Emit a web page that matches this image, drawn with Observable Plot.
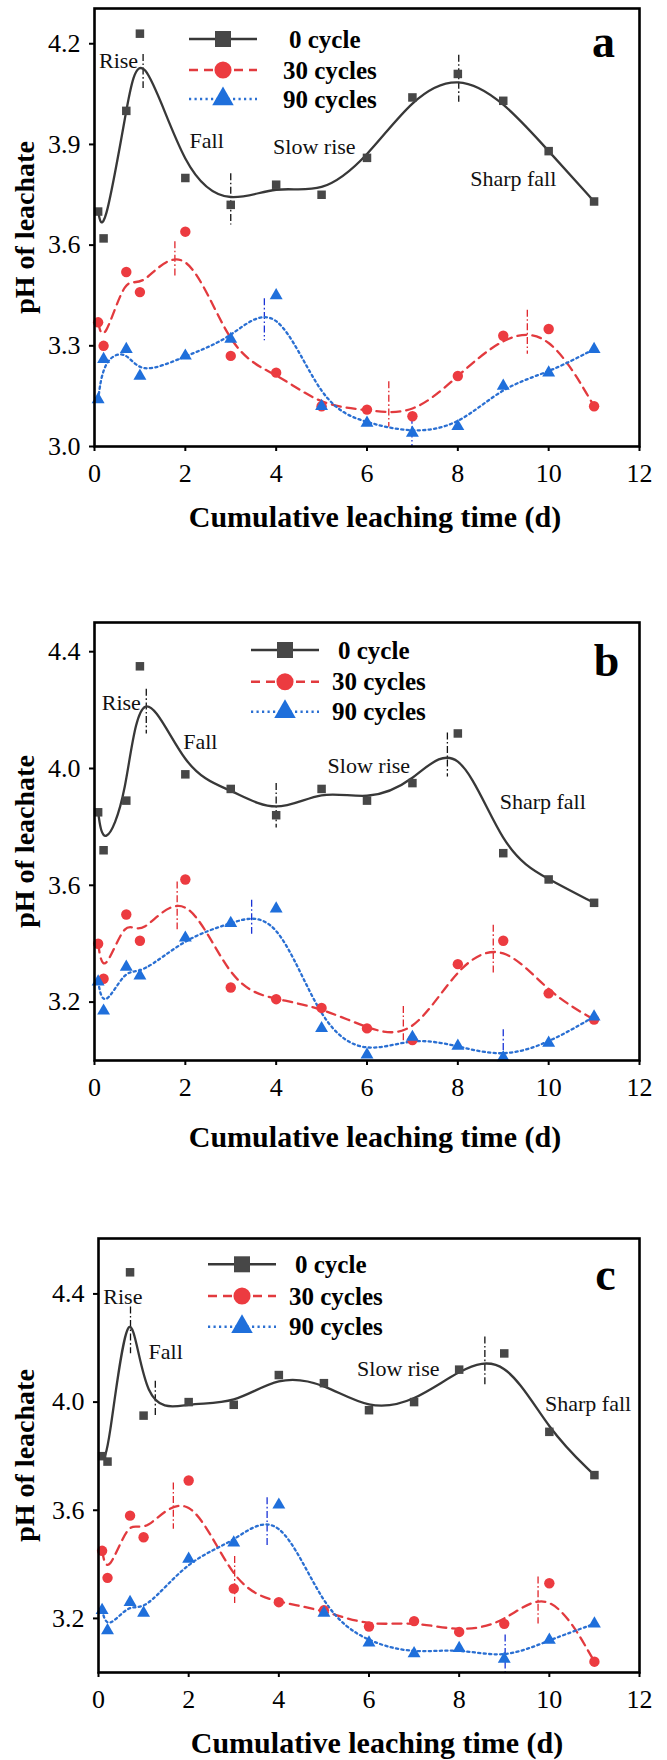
<!DOCTYPE html>
<html><head><meta charset="utf-8">
<script src="https://cdn.jsdelivr.net/npm/d3@7"></script>
<script src="https://cdn.jsdelivr.net/npm/@observablehq/plot@0.6"></script>
<style>
body{margin:0;background:#fff;}
#wrap{position:relative;width:667px;height:1760px;overflow:hidden;background:#fff;}
.panel{position:absolute;left:0;}
.panel svg, .panel svg text{font-family:"Liberation Serif","Times New Roman",serif;}
</style></head><body><div id="wrap"></div>
<script>
// ---- data ----
const time = [0.08, 0.2, 0.7, 1, 2, 3, 4, 5, 6, 7, 8, 9, 10, 11];
const seriesNames = ["0 cycle", "30 cycles", "90 cycles"];
const xTicks = [0, 2, 4, 6, 8, 10, 12];
const noteText = ["Rise", "Fall", "Slow rise", "Sharp fall"];

// panel a
const phA0  = [3.70, 3.62, 4.00, 4.23, 3.80, 3.72, 3.78, 3.75, 3.86, 4.04, 4.11, 4.03, 3.88, 3.73];
const phA30 = [3.37, 3.30, 3.52, 3.46, 3.64, 3.27, 3.22, 3.12, 3.11, 3.09, 3.21, 3.33, 3.35, 3.12];
const phA90 = [3.14, 3.26, 3.29, 3.21, 3.27, 3.32, 3.45, 3.12, 3.07, 3.04, 3.06, 3.18, 3.22, 3.29];
const yTicksA = [3.0, 3.3, 3.6, 3.9, 4.2];
// [x, yTop, yBottom, series index]
const stagesA = [[1.07, 4.168, 4.067, 0], [3.0, 3.813, 3.66, 0], [8.02, 4.166, 4.026, 0],
  [1.77, 3.61, 3.505, 1], [3.74, 3.44, 3.315, 2], [6.48, 3.193, 3.057, 1], [6.99, 3.087, 3.0, 2], [9.53, 3.406, 3.275, 1]];
const noteXA = [0.53, 2.47, 4.84, 9.22];
const noteYA = [4.148, 3.91, 3.893, 3.796];

// panel b
const phB0  = [3.85, 3.72, 3.89, 4.35, 3.98, 3.93, 3.84, 3.93, 3.89, 3.95, 4.12, 3.71, 3.62, 3.54];
const phB30 = [3.40, 3.28, 3.50, 3.41, 3.62, 3.25, 3.21, 3.18, 3.11, 3.07, 3.33, 3.41, 3.23, 3.14];
const phB90 = [3.27, 3.17, 3.32, 3.29, 3.42, 3.47, 3.52, 3.11, 3.02, 3.08, 3.05, 3.01, 3.06, 3.15];
const yTicksB = [3.2, 3.6, 4.0, 4.4];
const stagesB = [[1.14, 4.271, 4.118, 0], [4.0, 3.949, 3.796, 0], [7.77, 4.122, 3.971, 0],
  [1.82, 3.611, 3.448, 1], [3.46, 3.549, 3.432, 2], [6.8, 3.185, 3.057, 1], [8.78, 3.463, 3.297, 1], [9.0, 3.105, 3.0, 2]];
const noteXB = [0.59, 2.33, 6.04, 9.87];
const noteYB = [4.223, 4.091, 4.01, 3.886];

// panel c
const phC0  = [3.80, 3.78, 4.48, 3.95, 4.00, 3.99, 4.10, 4.07, 3.97, 4.00, 4.12, 4.18, 3.89, 3.73];
const phC30 = [3.45, 3.35, 3.58, 3.50, 3.71, 3.31, 3.26, 3.23, 3.17, 3.19, 3.15, 3.18, 3.33, 3.04];
const phC90 = [3.23, 3.155, 3.26, 3.22, 3.42, 3.48, 3.62, 3.22, 3.11, 3.07, 3.09, 3.05, 3.12, 3.18];
const yTicksC = [3.2, 3.6, 4.0, 4.4];
const stagesC = [[0.71, 4.352, 4.179, 0], [1.26, 4.077, 3.941, 0], [8.57, 4.241, 4.064, 0],
  [1.66, 3.701, 3.53, 1], [3.74, 3.646, 3.469, 2], [3.02, 3.429, 3.255, 1], [9.75, 3.353, 3.179, 1], [9.02, 3.139, 3.0, 2]];
const noteXC = [0.54, 1.49, 6.65, 10.86];
const noteYC = [4.39, 4.185, 4.123, 3.994];

// ---- styles ----
const SERIF = "'Liberation Serif', 'Times New Roman', serif";
const sty = [
  {line: "#383838", fill: "#474747", dash: null, sym: "square", r: 4.8, d3sym: d3.symbolSquare, legSize: 256, stage: "#111"},
  {line: "#e23a3e", fill: "#ec3b40", dash: "9,6", sym: "circle", r: 5.2, d3sym: d3.symbolCircle, legSize: 230, stage: "#e0262c"},
  {line: "#2a6fd2", fill: "#1f6fdb", dash: "2.2,3.3", sym: "triangle", r: 4.8, d3sym: d3.symbolTriangle, legSize: 200, stage: "#1a33d6"}
];

function panel(cfg) {
  const series = [cfg.s0, cfg.s30, cfg.s90];
  const marks = [];
  // stage markers
  [0, 1, 2].forEach(k => {
    marks.push(Plot.ruleX(cfg.stages.filter(d => d[3] === k), {
      x: d => d[0], y1: d => d[1], y2: d => d[2],
      stroke: sty[k].stage, strokeWidth: 1.3, strokeDasharray: "7,2.5,1.6,2.5"
    }));
  });
  // curves and points
  [0, 1, 2].forEach(k => {
    const rows = time.map((t, i) => ({t, v: series[k][i]}));
    marks.push(Plot.line(rows, {x: "t", y: "v", curve: "basis", stroke: sty[k].line,
      strokeWidth: 2.3, strokeDasharray: sty[k].dash}));
  });
  [0, 1, 2].forEach(k => {
    const rows = time.map((t, i) => ({t, v: series[k][i]}));
    marks.push(Plot.dot(rows, {x: "t", y: "v", symbol: sty[k].sym, r: sty[k].r, fill: sty[k].fill}));
  });
  // stage notes
  const notes = noteText.map((s, i) => ({s, x: cfg.noteX[i], y: cfg.noteY[i]}));
  marks.push(Plot.text(notes, {x: "x", y: "y", text: "s", fontSize: 22, fill: "#111"}));
  // panel letter
  marks.push(Plot.text([cfg.letter], {frameAnchor: "top-right", text: d => d, dx: cfg.letterDx, dy: cfg.letterDy,
    textAnchor: "middle", lineAnchor: "middle", fontSize: 46, fontWeight: "bold", fill: "#000"}));
  // axis titles
  marks.push(Plot.text(["pH of leachate"], {frameAnchor: "left", text: d => d, rotate: -90, dx: 25 - cfg.mLeft,
    textAnchor: "middle", lineAnchor: "middle", fontSize: 28, fontWeight: "bold", fill: "#000"}));
  marks.push(Plot.text(["Cumulative leaching time (d)"], {frameAnchor: "bottom", text: d => d, dx: 8, dy: cfg.titleDy,
    textAnchor: "middle", lineAnchor: "middle", fontSize: 30, fontWeight: "bold", fill: "#000"}));
  marks.push(Plot.frame({stroke: "#000", strokeWidth: 2.6}));
  marks.push(Plot.axisX({ticks: xTicks, tickSize: 5, tickPadding: 12, fontSize: 26, label: null, strokeWidth: 2}));
  marks.push(Plot.axisY({ticks: cfg.yTicks, tickSize: 5, tickPadding: 9, fontSize: 26, label: null, strokeWidth: 2,
    tickFormat: d3.format(".1f")}));

  const svg = Plot.plot({
    width: 667, height: cfg.height,
    marginTop: cfg.mTop, marginBottom: cfg.mBottom, marginLeft: cfg.mLeft, marginRight: 28,
    x: {domain: [0, 12]},
    y: {domain: cfg.yDomain},
    style: {fontFamily: SERIF, fontSize: "26px", color: "#000", background: "transparent", overflow: "visible"},
    marks
  });

  // legend
  const g = d3.select(svg).append("g").attr("text-anchor", "start");
  const L = cfg.legend;
  [0, 1, 2].forEach(k => {
    const y = L.ys[k];
    g.append("line").attr("x1", L.x1).attr("x2", L.x2).attr("y1", y).attr("y2", y)
      .attr("stroke", sty[k].line).attr("stroke-width", 2.5)
      .attr("stroke-dasharray", sty[k].dash);
    g.append("path").attr("transform", `translate(${L.mx},${y})`)
      .attr("d", d3.symbol(sty[k].d3sym, sty[k].legSize)()).attr("fill", sty[k].fill);
    g.append("text").attr("x", L.tx + (k === 0 ? 6 : 0)).attr("y", y).attr("dy", "0.35em")
      .attr("text-anchor", "start")
      .attr("font-weight", "bold").attr("font-size", 25).attr("fill", "#000")
      .text(seriesNames[k]);
  });

  const div = document.createElement("div");
  div.className = "panel";
  div.style.top = cfg.top + "px";
  div.appendChild(svg);
  document.getElementById("wrap").appendChild(div);
}

panel({top: 0, height: 580, mTop: 8, mBottom: 134, mLeft: 94, yDomain: [3.0, 4.305], yTicks: yTicksA,
  s0: phA0, s30: phA30, s90: phA90, stages: stagesA, noteX: noteXA, noteY: noteYA,
  letter: "a", letterDx: -36, letterDy: 34, titleDy: 71,
  legend: {x1: 189, x2: 257, mx: 223, tx: 283, ys: [39, 70, 99]}});

panel({top: 580, height: 620, mTop: 42, mBottom: 140, mLeft: 94, yDomain: [3.0, 4.5], yTicks: yTicksB,
  s0: phB0, s30: phB30, s90: phB90, stages: stagesB, noteX: noteXB, noteY: noteYB,
  letter: "b", letterDx: -33, letterDy: 39, titleDy: 77,
  legend: {x1: 251, x2: 319, mx: 285, tx: 332, ys: [70, 101.7, 131.7]}});

panel({top: 1200, height: 560, mTop: 38, mBottom: 88, mLeft: 98, yDomain: [3.0, 4.605], yTicks: yTicksC,
  s0: phC0, s30: phC30, s90: phC90, stages: stagesC, noteX: noteXC, noteY: noteYC,
  letter: "c", letterDx: -34, letterDy: 37, titleDy: 71,
  legend: {x1: 208, x2: 276, mx: 242, tx: 289, ys: [64.3, 96, 126.7]}});
</script>
</body></html>
